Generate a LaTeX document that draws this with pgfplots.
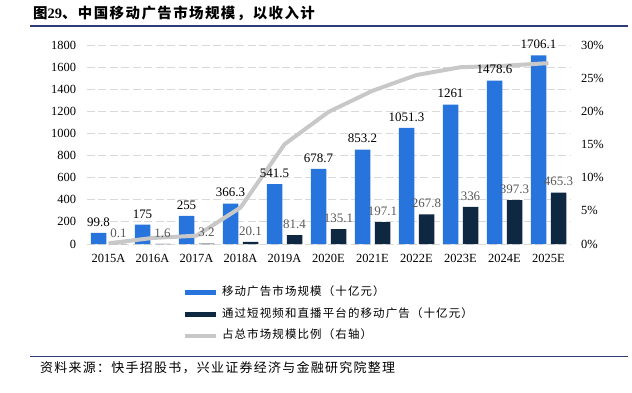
\documentclass[border=0pt]{standalone}
\usepackage{pgfplots}
\pgfplotsset{compat=1.18}
\usepackage{fontspec}
\setmainfont{Liberation Serif}
\newfontfamily\cjk{Noto Sans CJK SC}[LetterSpace=10]
\definecolor{cblue}{RGB}{39,116,220}
\definecolor{cdark}{RGB}{15,40,66}
\definecolor{cgrayline}{RGB}{200,200,200}
\definecolor{cgrid}{RGB}{217,217,217}
\definecolor{clabel}{RGB}{89,89,89}
\definecolor{crule}{RGB}{47,58,120}
\pgfplotstableread{
x blue dark ratio
0 99.8 0.1 0.10
1 175 1.6 0.91
2 255 3.2 1.25
3 366.3 20.1 5.49
4 541.5 81.4 15.03
5 678.7 135.1 19.91
6 853.2 197.1 23.10
7 1051.3 267.8 25.47
8 1261 336 26.65
9 1478.6 397.3 26.87
10 1706.1 465.3 27.27
}\datatable
\begin{document}
\begin{tikzpicture}
\useasboundingbox (0bp,0bp) rectangle (632bp,393bp);
\node[anchor=west,inner sep=0] at (33bp,380bp) {\cjk\fontsize{14.5}{16}\selectfont\bfseries 图{\rmfamily\bfseries 29}、中国移动广告市场规模，以收入计};
\draw[crule,line width=1.5bp] (30bp,367bp) -- (628bp,367bp);
\draw[crule,line width=1.5bp] (30bp,36.3bp) -- (628bp,36.3bp);
\node[anchor=west,inner sep=0] at (40bp,25bp) {\cjk\fontsize{13}{15}\selectfont 资料来源：快手招股书，兴业证券经济与金融研究院整理};

% right axis: ticks only
\begin{axis}[
  at={(86.5bp,149bp)}, anchor=south west,
  scale only axis, width=484bp, height=199bp,
  xmin=-0.5, xmax=10.5, ymin=0, ymax=30,
  axis y line*=right, axis x line=none,
  axis line style={draw=none}, major tick length=0,
  ytick={0,5,...,30},
  yticklabel={\pgfmathprintnumber{\tick}\%},
  /pgf/number format/assume math mode=true,
  ticklabel style={font=\fontsize{12.5}{14}\selectfont},
  yticklabel style={xshift=7bp},
]
\addplot[draw=none, no marks] table[x=x, y=ratio] {\datatable};
\end{axis}

\begin{axis}[
  at={(86.5bp,149bp)}, anchor=south west,
  scale only axis, width=484bp, height=199bp,
  xmin=-0.5, xmax=10.5, ymin=0, ymax=1800,
  axis line style={draw=none}, major tick length=0,
  ytick={0,200,...,1800},
  ymajorgrids, grid style={cgrid,line width=0.9bp,dash pattern=on 8bp off 3.5bp},
  xtick={0,...,10},
  xticklabels={2015A,2016A,2017A,2018A,2019A,2020E,2021E,2022E,2023E,2024E,2025E},
  /pgf/number format/assume math mode=true,
  /pgf/number format/1000 sep={},
  ticklabel style={font=\fontsize{12.5}{14}\selectfont},
  yticklabel style={xshift=-7bp},
  xticklabel style={yshift=-7bp},
  ybar, bar width=15.5bp,
  clip=false,
  every node near coord/.append style={font=\fontsize{13}{15}\selectfont, yshift=3bp,
     /pgf/number format/fixed, /pgf/number format/precision=1, /pgf/number format/1000 sep={}},
  legend cell align=left,
  legend style={at={(0.1994,-0.216)}, anchor=north west, draw=none, fill=none,
    inner sep=0pt, outer sep=0pt, row sep=10bp, column sep=4bp,
    font={\cjk\fontsize{11.5}{13}\selectfont},
    nodes={inner sep=0pt, text height=9bp, text depth=2.5bp},
    cells={anchor=west}},
]
\addplot[fill=cblue, draw=none, bar shift=-10bp,
  legend image code/.code={\fill[cblue] (0bp,-2.5bp) rectangle (31bp,2.5bp);}]
  table[x=x, y=blue] {\datatable};
\addlegendentry{移动广告市场规模（十亿元）}
\addplot[fill=cdark, draw=none, bar shift=10bp,
  legend image code/.code={\fill[cdark] (0bp,-2.5bp) rectangle (31bp,2.5bp);}]
  table[x=x, y=dark] {\datatable};
\addlegendentry{通过短视频和直播平台的移动广告（十亿元）}
\addplot[sharp plot, cgrayline, line width=4bp, line join=round, no marks,
  y filter/.expression={y*60},
  legend image code/.code={\draw[cgrayline,line width=4bp] (0bp,0bp) -- (31bp,0bp);}]
  table[x=x, y=ratio] {\datatable};
\addlegendentry{占总市场规模比例（右轴）}
% value labels on top of the line
\addplot[forget plot, draw=none, fill=none, bar shift=-10bp, nodes near coords]
  table[x=x, y=blue] {\datatable};
\addplot[forget plot, draw=none, fill=none, bar shift=10bp, nodes near coords,
  every node near coord/.append style={color=clabel}]
  table[x=x, y=dark] {\datatable};
\end{axis}
\end{tikzpicture}
\end{document}
